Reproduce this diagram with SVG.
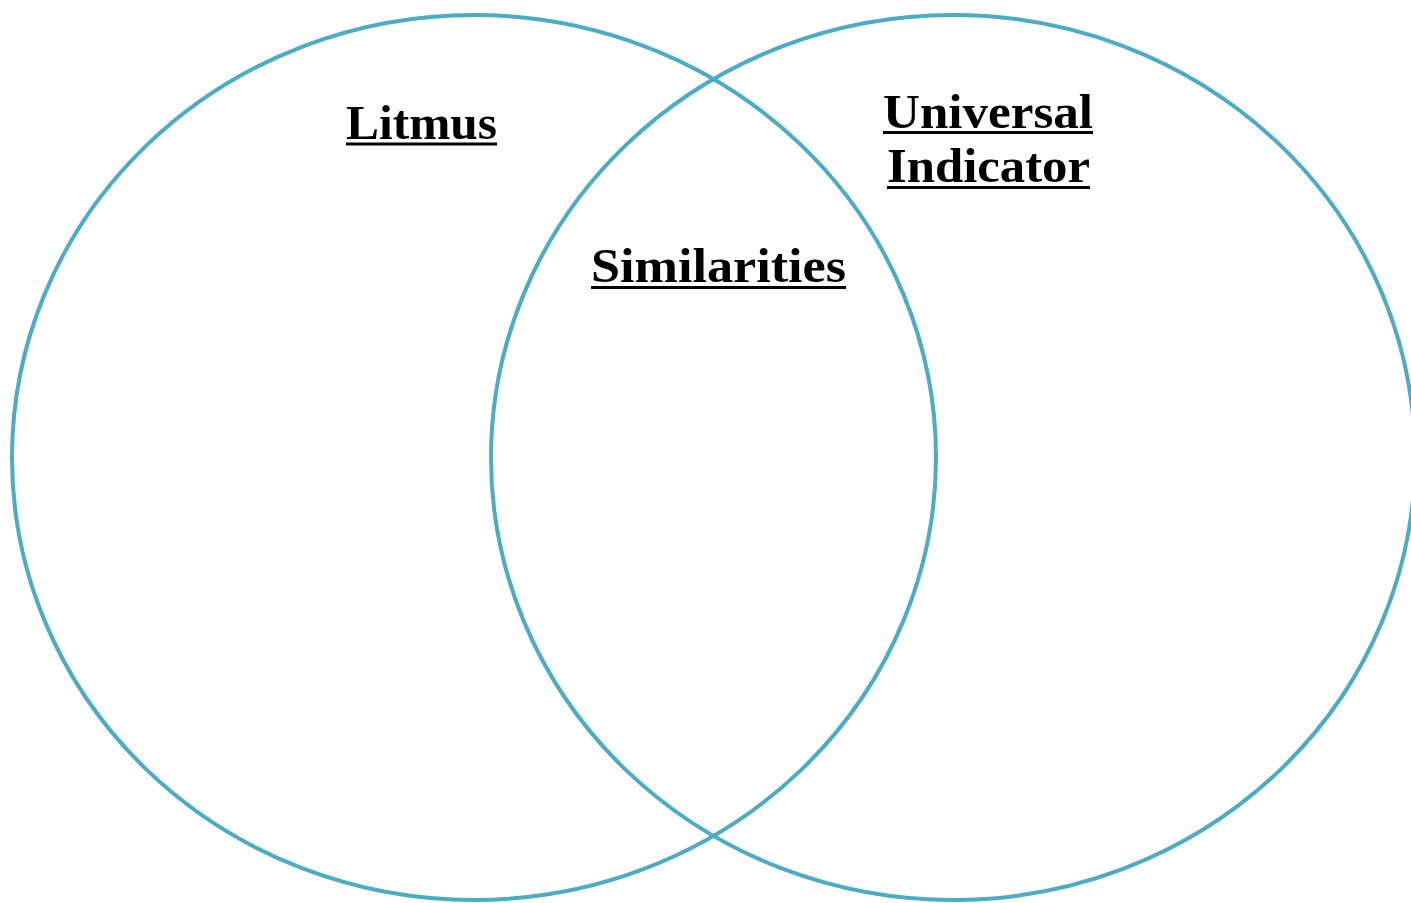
<svg xmlns="http://www.w3.org/2000/svg" width="1411" height="903" viewBox="0 0 1411 903">
<style>
.c{fill:none;stroke:#4BACC6;stroke-width:4}
.t{font-family:"Liberation Serif","DejaVu Serif",serif;font-weight:bold;font-size:49px;fill:#000}
.u{stroke:#000;stroke-width:3}
</style>
<rect width="1411" height="903" fill="#fff"/>
<g id="litmus">
<ellipse class="c" cx="474" cy="457.5" rx="462" ry="442.5"/>
<text class="t" x="346" y="139" textLength="151" lengthAdjust="spacingAndGlyphs">Litmus</text>
<line class="u" x1="346" y1="144" x2="497" y2="144"/>
</g>
<g id="universal">
<ellipse class="c" cx="953" cy="457.5" rx="462" ry="442.5"/>
<text class="t" x="883" y="128" textLength="210" lengthAdjust="spacingAndGlyphs">Universal</text>
<line class="u" x1="883" y1="132.5" x2="1093" y2="132.5"/>
<text class="t" x="887" y="182" textLength="203" lengthAdjust="spacingAndGlyphs">Indicator</text>
<line class="u" x1="887" y1="187.5" x2="1090" y2="187.5"/>
</g>
<g id="similarities">
<text class="t" x="591" y="282" textLength="255" lengthAdjust="spacingAndGlyphs">Similarities</text>
<line class="u" x1="591" y1="287.5" x2="846" y2="287.5"/>
</g>
<g id="connectors"/>
</svg>
